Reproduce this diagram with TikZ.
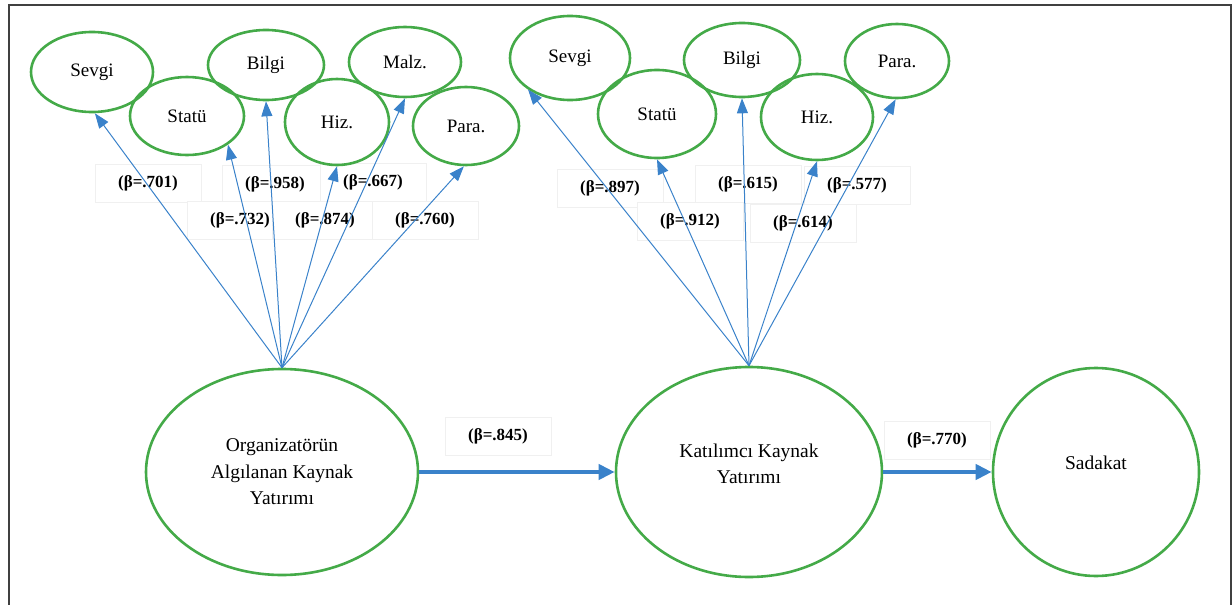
\documentclass[tikz,border=0pt]{standalone}
\usepackage{fontspec}
\setmainfont{Liberation Serif}
\usetikzlibrary{shapes.geometric,arrows.meta}
\definecolor{eg}{RGB}{68,170,72}
\definecolor{ab}{RGB}{58,130,202}
\begin{document}
\begin{tikzpicture}[x=1pt,y=-1pt,
 sm/.style={ellipse, draw=eg, line width=2.6pt, inner sep=0pt, font=\fontsize{19}{22}\selectfont},
 big/.style={ellipse, draw=eg, line width=2.6pt, inner sep=0pt},
 bigtxt/.style={align=center, inner sep=0pt, font=\fontsize{19.5}{26.5}\selectfont},
 lbl/.style={draw=black!6, line width=0.6pt, fill=white, minimum width=106pt, minimum height=38pt, inner sep=0pt, font=\fontsize{17}{20}\selectfont\bfseries},
 thinarrow/.style={draw=ab, line width=1pt, -{Triangle[length=15pt,width=11pt]}},
 thickarrow/.style={draw=ab, line width=4pt, -{Triangle[length=16pt,width=15pt]}},
]
\useasboundingbox (0,0) rectangle (1232,605);
\draw[line width=1.5pt, black!75] (9,605) -- (9,5) -- (1231,5) -- (1231,605);

% labels (top row first, then lower row)
\node[lbl] (l701) at (148,183) {(β=.701)};
\node[lbl] (l958) at (275,184) {(β=.958)};
\node[lbl] (l667) at (373,182) {(β=.667)};
\node[lbl] (l732) at (240,220) {(β=.732)};
\node[lbl] (l874) at (325,220) {(β=.874)};
\node[lbl] (l760) at (425,220) {(β=.760)};
\node[lbl] (l897) at (610,188) {(β=.897)};
\node[lbl] (l615) at (748,184) {(β=.615)};
\node[lbl] (l577) at (857,185) {(β=.577)};
\node[lbl] (l912) at (690,221) {(β=.912)};
\node[lbl] (l614) at (803,223) {(β=.614)};
\node[lbl] (l845) at (498,436) {(β=.845)};
\node[lbl] (l770) at (937,440) {(β=.770)};

% left cluster
\node[sm, minimum width=122pt, minimum height=80pt] (sev1) at (92,72) {Sevgi};
\node[sm, minimum width=114pt, minimum height=78pt] (sta1) at (187,116) {Statü};
\node[sm, minimum width=116pt, minimum height=70pt] (bil1) at (266,65) {Bilgi};
\node[sm, minimum width=104pt, minimum height=86pt] (hiz1) at (337,122) {Hiz.};
\node[sm, minimum width=112pt, minimum height=70pt] (mal1) at (405,62) {Malz.};
\node[sm, minimum width=106pt, minimum height=78pt] (par1) at (466,126) {Para.};

% right cluster
\node[sm, minimum width=120pt, minimum height=84pt] (sev2) at (570,58) {Sevgi};
\node[sm, minimum width=118pt, minimum height=88pt] (sta2) at (657,114) {Statü};
\node[sm, minimum width=116pt, minimum height=74pt] (bil2) at (742,60) {Bilgi};
\node[sm, minimum width=112pt, minimum height=86pt] (hiz2) at (817,117) {Hiz.};
\node[sm, minimum width=104pt, minimum height=74pt] (par2) at (897,61) {Para.};

% big ellipses
\node[big, minimum width=272pt, minimum height=206pt] (org) at (282,472) {};
\node[bigtxt] (orgt) at (282,472) {Organizatörün\\Algılanan Kaynak\\Yatırımı};
\node[big, minimum width=266pt, minimum height=210pt] (kat) at (749,472) {};
\node[bigtxt] (katt) at (749,464) {Katılımcı Kaynak\\Yatırımı};
\node[big, minimum width=206pt, minimum height=208pt] (sad) at (1096,472) {};
\node[bigtxt] (sadt) at (1096,463) {Sadakat};

% arrows
\draw[thinarrow] (org.north) -- (sev1.-86);
\draw[thinarrow] (org.north) -- (sta1.-35);
\draw[thinarrow] (org.north) -- (bil1.south);
\draw[thinarrow] (org.north) -- (hiz1.south);
\draw[thinarrow] (org.north) -- (mal1.south);
\draw[thinarrow] (org.north) -- (par1.-93);

\draw[thinarrow] (kat.north) -- (sev2.-143);
\draw[thinarrow] (kat.north) -- (sta2.south);
\draw[thinarrow] (kat.north) -- (bil2.south);
\draw[thinarrow] (kat.north) -- (hiz2.south);
\draw[thinarrow] (kat.north) -- (par2.-92);

\draw[thickarrow] (org.east) -- (kat.west);
\draw[thickarrow] (kat.east) -- (sad.west);
\end{tikzpicture}
\end{document}
